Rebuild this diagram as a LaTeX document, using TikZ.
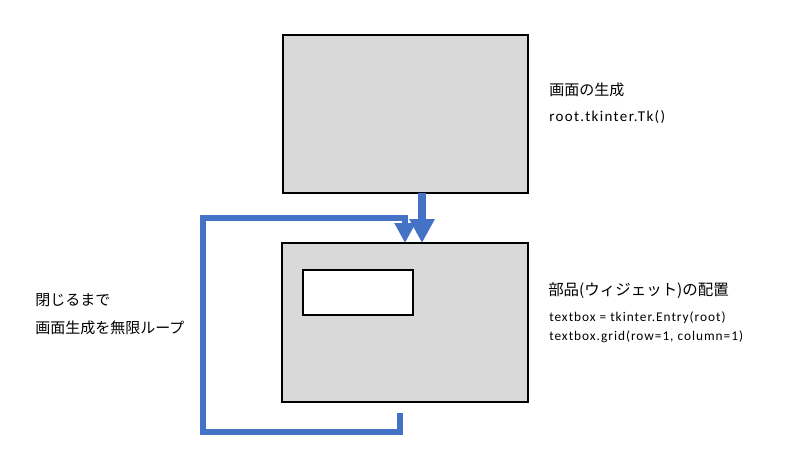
\documentclass[tikz,border=0pt]{standalone}
\usepackage{fontspec}
\setmainfont{Carlito}
\newfontfamily\jp{Noto Sans CJK JP}
\newfontfamily\rootfont{Carlito}[LetterSpace=9]
\newfontfamily\codefont{Carlito}[LetterSpace=7.3]
\usetikzlibrary{arrows.meta}
\definecolor{flowblue}{HTML}{4472C4}
\definecolor{boxgray}{HTML}{D9D9D9}
\tikzset{
  panel/.style={draw=black, line width=2.2pt, fill=boxgray, inner sep=0pt, outer sep=0pt},
  entrybox/.style={draw=black, line width=2pt, fill=white, inner sep=0pt, outer sep=0pt},
  jtext/.style={anchor=west, inner sep=0pt, font=\jp\fontsize{11.25pt}{13pt}\selectfont},
  ctext/.style={anchor=west, inner sep=0pt},
  mainarrow/.style={draw=flowblue, line width=6pt, -{Triangle[width=18pt,length=18pt]}},
  looparrow/.style={draw=flowblue, line width=4pt, -{Triangle[width=15pt,length=15pt]}}
}
\begin{document}
\begin{tikzpicture}[x=0.75pt,y=-0.75pt]
\useasboundingbox (0,0) rectangle (802,453);
\node[panel, minimum width=245*0.75pt, minimum height=158*0.75pt] (screen) at (405.5,114) {};
\node[panel, minimum width=246*0.75pt, minimum height=159*0.75pt] (widget) at (405,322.5) {};
\node[entrybox, minimum width=110*0.75pt, minimum height=45*0.75pt] (entry) at (358,292.5) {};

\node[jtext] (t1) at (549,90) {画面の生成};
\node[ctext, font=\rootfont\fontsize{11.25pt}{13pt}\selectfont] (t2) at (549,117) {root.tkinter.Tk()};
\node[jtext, font=\jp\fontsize{11.6pt}{13pt}\selectfont] (t3) at (548,291) {部品(ウィジェット)の配置};
\node[ctext, font=\codefont\fontsize{10pt}{11pt}\selectfont] (t4) at (549,318) {textbox = tkinter.Entry(root)};
\node[ctext, font=\codefont\fontsize{10pt}{11pt}\selectfont] (t5) at (549,337) {textbox.grid(row=1, column=1)};
\node[jtext] (l1) at (35,300) {閉じるまで};
\node[jtext] (l2) at (35,328) {画面生成を無限ループ};

\coordinate (mainstart) at (422,193);
\coordinate (mainend) at (422,243);
\draw[mainarrow] (screen.south -| mainstart) -- (widget.north -| mainend);

\coordinate (loopstart) at (400,413);
\coordinate (loopend) at (405,243);
\draw[looparrow] (loopstart) -- (400,432) -- (203,432) -- (203,218) -- (405,218) -- (widget.north -| loopend);
\end{tikzpicture}
\end{document}
